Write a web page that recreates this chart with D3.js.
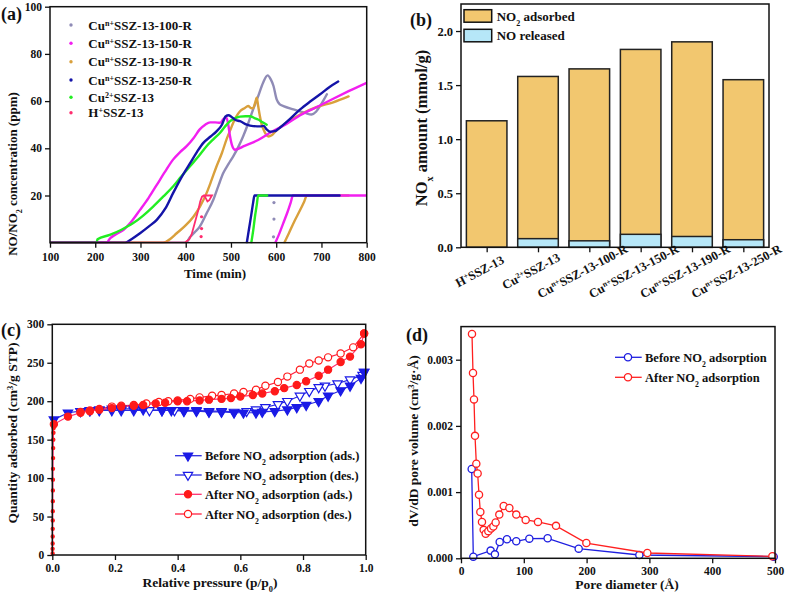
<!DOCTYPE html>
<html><head><meta charset="utf-8">
<script src="https://cdn.jsdelivr.net/npm/d3@7"></script>
<style>
body{margin:0;background:#fff}
svg text{font-family:"Liberation Serif","Times New Roman",serif;font-weight:bold;fill:#111}
</style>
</head><body>
<svg id="fig" width="787" height="597"></svg>
<script>
// ---------------- Panel (a) data: [time (min), concentration (ppm)] ----------------
const aSeriesNames = ["Cu^{n+}SSZ-13-100-R","Cu^{n+}SSZ-13-150-R","Cu^{n+}SSZ-13-190-R","Cu^{n+}SSZ-13-250-R","Cu^{2+}SSZ-13","H^{+}SSZ-13"];
const aColors = ["#8f8bb6","#f21ff0","#d9a03c","#1414a8","#22ee22","#ff2d6f"];
const a100R = [[100,0],[400,0],[410,2.5],[420,4.5],[431,6.8],[445,12],[461,18.2],[472,24],[483,29.5],[495,33.5],[505,36.6],[516,40.5],[527,45.1],[538,50.5],[549,56.5],[560,62],[571,67.8],[581,70.9],[588,69.2],[594,66.4],[601,60.7],[608,58.6],[616,57.9],[638,56.5],[664,55],[678,54.3],[688,55.5],[697,57.9],[705,60.5],[712,62.9]];
const a150R = [[100,0],[225,0],[233,1.9],[245,3.5],[262,5.4],[280,9],[299,13.9],[318,19],[336,24.5],[354,30],[372,35.2],[388,38.5],[402,40.9],[418,44.5],[431,48],[443,50],[454,51],[465,51],[476,50.8],[484,52.5],[490,53],[494,50],[498,45],[502,41.5],[509,39.4],[530,41],[560,43.5],[590,47],[620,50],[653,54],[690,57.5],[726,61],[760,64.2],[800,67.8]];
const a190R = [[100,0],[350,0],[365,1.5],[380,4],[398,7],[417,11],[432,15.5],[446,21],[457,26.5],[468,32.3],[480,38],[490,43.7],[498,47.5],[505,50.8],[512,53.5],[520,55.7],[530,57],[538,57.9],[545,57],[549,57],[553,59],[557,61.4],[560,58],[564,53.6],[568,50],[572,48],[577,46],[583,45],[590,45.5],[600,47.5],[623,50.8],[653,54.3],[690,57.5],[726,59.5],[760,62]];
const a250R = [[100,0],[266,0],[280,1.5],[299,4],[318,6.8],[336,9.7],[355,14.5],[372,21],[390,27.5],[410,33.8],[425,38.5],[439,42.3],[455,45],[468,47.2],[480,50],[488,53.5],[495,54],[500,53.5],[510,52],[520,51.5],[535,50],[549,49.4],[565,49.3],[572,49.5],[579,48],[587,47],[594,47.2],[600,47.5],[608,48.7],[625,51.5],[653,56.5],[675,59.8],[697,62.9],[718,66],[737,68.3]];
const aCu2 = [[100,0],[203,0],[205,1.5],[232,3.3],[258,5.5],[284,8.3],[306,11.5],[328,15.3],[350,19.5],[372,23.8],[390,28],[409,32.3],[428,36.5],[446,40.9],[462,44],[476,46.6],[488,49.5],[498,51.5],[510,52.8],[520,53.4],[532,53.6],[542,53.6],[552,52.8],[560,52.2],[570,51],[579,50]];
const aH = [[100,0],[398,0],[402,0.6],[408,1.5],[413,3.5],[418,7],[423,10.5],[428,14],[432,17.5],[436,19.5],[440,20],[458,20],[452,18],[448,17.5],[444,19],[440,20]];
// second (stepped) traces reaching 20 ppm
const a150Rstep = [[598,0],[605,3],[615,8],[625,13],[632,17],[637,20],[800,20]];
const a190Rstep = [[618,0],[628,4],[640,9],[652,13.5],[662,17.5],[668,20],[760,20]];
const a250Rstep = [[535,0],[540,6],[545,12],[549,17],[552,20],[740,20]];
const aCu2step = [[545,0],[549,5],[553,11],[557,16],[560,20],[580,20]];
const a100Rdots = [[595,17],[595,10],[594,2.5]];
const aHdots = [[435,11],[435,6],[434,2.6]];
const aXTicks = [100,200,300,400,500,600,700,800];
const aYTicks = [20,40,60,80,100];

// ---------------- Panel (b) data ----------------
const bCategories = ["H^{+}SSZ-13","Cu^{2+}SSZ-13","Cu^{n+}SSZ-13-100-R","Cu^{n+}SSZ-13-150-R","Cu^{n+}SSZ-13-190-R","Cu^{n+}SSZ-13-250-R"];
const bNO2adsorbed = [1.17,1.58,1.65,1.83,1.90,1.55];
const bNOreleased = [0,0.08,0.06,0.12,0.10,0.07];
const bYTicks = [0,0.5,1.0,1.5,2.0];

// ---------------- Panel (c) data: [p/p0, cm3/g STP] ----------------
const cBeforeAds = [[0.005,176],[0.05,185],[0.09,187],[0.12,188],[0.15,189],[0.19,190],[0.22,190],[0.26,190],[0.29,189],[0.35,188],[0.38,188],[0.42,187],[0.46,187],[0.50,186],[0.54,186],[0.58,185],[0.61,185],[0.65,185],[0.67,186],[0.71,187],[0.75,189],[0.78,192],[0.81,195],[0.85,200],[0.88,207],[0.92,214],[0.95,220],[0.985,230],[0.995,238]];
const cBeforeDes = [[0.995,238],[0.99,234],[0.95,228],[0.91,223],[0.87,220],[0.85,218],[0.82,213],[0.79,207],[0.75,200],[0.72,196],[0.68,192],[0.65,189],[0.62,187],[0.58,186],[0.54,187],[0.50,187],[0.46,188],[0.42,188],[0.39,188],[0.35,188],[0.31,188],[0.26,188],[0.22,188],[0.19,188],[0.15,188],[0.12,188],[0.09,187]];
const cAfterAdsLow = [[0.001,2],[0.001,8],[0.0011,15],[0.0012,24],[0.0013,34],[0.0014,45],[0.0015,57],[0.0016,70],[0.0018,84],[0.002,98],[0.0022,112],[0.0025,126],[0.0028,139],[0.0032,150],[0.0037,159],[0.0043,165]];
const cAfterAds = [[0.005,170],[0.05,180],[0.09,185],[0.12,187],[0.15,189],[0.19,191],[0.22,193],[0.26,194],[0.29,195],[0.33,197],[0.36,198],[0.40,200],[0.43,200],[0.47,201],[0.50,202],[0.54,203],[0.57,204],[0.60,206],[0.64,208],[0.67,210],[0.71,213],[0.74,217],[0.78,221],[0.81,226],[0.85,233],[0.88,241],[0.92,251],[0.95,258],[0.985,274],[0.995,288]];
const cAfterDes = [[0.995,288],[0.96,270],[0.92,262],[0.88,257],[0.85,253],[0.82,249],[0.79,241],[0.75,232],[0.72,225],[0.68,220],[0.65,215],[0.61,212],[0.58,210],[0.54,208],[0.51,207],[0.47,205],[0.44,203],[0.40,201],[0.37,200],[0.34,199],[0.30,197],[0.26,195],[0.22,194],[0.19,193],[0.15,190],[0.12,188],[0.09,186]];
const cXTicks = [0,0.2,0.4,0.6,0.8,1.0];
const cYTicks = [0,50,100,150,200,250,300];

// ---------------- Panel (d) data: [pore diameter (Å), dV/dD] ----------------
const dBefore = [[17,0.00135],[19.6,0.000025],[47.2,0.000116],[54,0.00006],[61.6,0.000247],[73.2,0.000287],[88,0.000257],[108.8,0.000297],[138,0.000302],[187.4,0.000146],[284,0.00005],[498,0.000025]];
const dAfter = [[17.5,0.00339],[19.1,0.0028],[20.7,0.0024],[22.3,0.00185],[24.4,0.00143],[26.5,0.00128],[28.7,0.00096],[30.8,0.0007],[33.4,0.00055],[36.1,0.00043],[39.3,0.00037],[43.5,0.00041],[47.8,0.00045],[51.5,0.00048],[55.2,0.00054],[61,0.00066],[68,0.00079],[77,0.00076],[88,0.00066],[103,0.00058],[122.6,0.00055],[151.3,0.00049],[199.6,0.00023],[296.7,0.00008],[495.8,0.00003]];
const dXTicks = [0,100,200,300,400,500];
const dYTicks = [0,0.001,0.002,0.003];

// ---------------- helpers ----------------
const svg = d3.select("#fig");
function rich(sel, str){
  str.split(/(\^\{[^}]*\}|_\{[^}]*\})/).filter(s=>s).forEach(p=>{
    if(p.startsWith("^{")) sel.append("tspan").attr("baseline-shift","super").style("font-size","0.62em").text(p.slice(2,-1));
    else if(p.startsWith("_{")) sel.append("tspan").attr("baseline-shift","sub").style("font-size","0.62em").text(p.slice(2,-1));
    else sel.append("tspan").text(p);
  });
  return sel;
}
function styleAxis(g, fs){
  g.select(".domain").remove();
  g.selectAll(".tick line").attr("stroke","#111").attr("stroke-width",1.3);
  g.selectAll(".tick text").style("font-size",fs+"px").attr("fill","#111");
}
function frame(x0,y0,x1,y1){
  svg.append("rect").attr("x",x0).attr("y",y0).attr("width",x1-x0).attr("height",y1-y0)
    .attr("fill","none").attr("stroke","#111").attr("stroke-width",1.5);
}
function label(txt,x,y,fs,rot,anchor){
  const t = svg.append("text").attr("transform",`translate(${x},${y}) rotate(${rot||0})`)
    .attr("text-anchor",anchor||"middle").style("font-size",fs+"px");
  return rich(t,txt);
}

// ================= Panel (a) =================
{
  const x = d3.scaleLinear().domain([100,800]).range([50,366.7]);
  const y = d3.scaleLinear().domain([0,100]).range([242.7,6.7]);
  const g = svg.append("g");
  svg.append("clipPath").attr("id","clipA").append("rect").attr("x",50).attr("y",6.7).attr("width",316.7).attr("height",236.5);
  const plot = g.append("g").attr("clip-path","url(#clipA)");
  const line = d3.line().x(d=>x(d[0])).y(d=>y(d[1])).curve(d3.curveMonotoneX);
  const mains = [a100R,a150R,a190R,a250R,aCu2,aH];
  const steps = [null,a150Rstep,a190Rstep,a250Rstep,aCu2step,null];
  const order = [0,2,1,4,3];
  order.forEach(i=>{
    plot.append("path").attr("d",line(mains[i])).attr("fill","none").attr("stroke",aColors[i]).attr("stroke-width",2.4).attr("stroke-linecap","round");
  });
  [2,1,3,4].forEach(i=>{
    plot.append("path").attr("d",line(steps[i])).attr("fill","none").attr("stroke",aColors[i]).attr("stroke-width",2.4).attr("stroke-linecap","round");
  });
  plot.selectAll(".d100").data(a100Rdots).join("circle").attr("cx",d=>x(d[0])).attr("cy",d=>y(d[1])).attr("r",1.6).attr("fill",aColors[0]);
  plot.append("path").attr("d",d3.line().x(d=>x(d[0])).y(d=>y(d[1]))(aH)).attr("fill","none").attr("stroke",aColors[5]).attr("stroke-width",1.8);
  plot.selectAll(".dh").data(aHdots).join("circle").attr("cx",d=>x(d[0])).attr("cy",d=>y(d[1])).attr("r",1.6).attr("fill",aColors[5]);

  const ax = g.append("g").attr("transform","translate(0,242.7)").call(d3.axisBottom(x).tickValues(aXTicks).tickSize(5).tickPadding(5).tickSizeOuter(0));
  styleAxis(ax,11.5);
  const ay = g.append("g").attr("transform","translate(50,0)").call(d3.axisLeft(y).tickValues(aYTicks).tickSize(5).tickPadding(3).tickSizeOuter(0));
  styleAxis(ay,11.5);
  frame(50,6.7,366.7,242.7);
  aSeriesNames.forEach((n,i)=>{
    const yy = [25,43.3,61.7,80,97.3,112.7][i];
    svg.append("circle").attr("cx",71).attr("cy",yy).attr("r",1.7).attr("fill",aColors[i]);
    label(n,88.3,yy+4.5,13,0,"start");
  });
  label("NO/NO_{2} concentration (ppm)",17,174,13,-90);
  label("Time (min)",215,278,13);
  label("(a)",1,20,18,0,"start");
}

// ================= Panel (b) =================
{
  const x = d3.scalePoint().domain(bCategories).range([461,769]).padding(0.5);
  const step = x.step(), bw = step*0.79;
  const y = d3.scaleLinear().domain([0,2.25]).range([247.3,4]);
  const g = svg.append("g");
  g.selectAll(".bo").data(bCategories).join("rect")
    .attr("x",d=>x(d)-bw/2).attr("width",bw)
    .attr("y",(d,i)=>y(bNO2adsorbed[i])).attr("height",(d,i)=>y(0)-y(bNO2adsorbed[i]))
    .attr("fill","#f2c76f").attr("stroke","#222").attr("stroke-width",1.5);
  g.selectAll(".bb").data(bCategories.filter((d,i)=>bNOreleased[i]>0)).join("rect")
    .attr("x",d=>x(d)-bw/2).attr("width",bw)
    .attr("y",d=>y(bNOreleased[bCategories.indexOf(d)])).attr("height",d=>y(0)-y(bNOreleased[bCategories.indexOf(d)]))
    .attr("fill","#b6e7f8").attr("stroke","#222").attr("stroke-width",1.5);
  const ay = g.append("g").attr("transform","translate(461,0)").call(d3.axisLeft(y).tickValues(bYTicks).tickFormat(d3.format(".1f")).tickSize(5).tickPadding(3).tickSizeOuter(0));
  styleAxis(ay,12.5);
  const ax = g.append("g").attr("transform","translate(0,247.3)").call(d3.axisBottom(x).tickSize(5).tickFormat("").tickSizeOuter(0));
  styleAxis(ax,12);
  frame(461,4,769,247.3);
  bCategories.forEach(c=>{ label(c,x(c)-5,275,12.5,-28); });
  [["NO_{2} adsorbed","#f2c76f",9.7],["NO released","#b6e7f8",29.3]].forEach(l=>{
    svg.append("rect").attr("x",464).attr("y",l[2]).attr("width",27.7).attr("height",12.5).attr("fill",l[1]).attr("stroke","#111").attr("stroke-width",1.5);
    label(l[0],496.7,l[2]+11,13,0,"start");
  });
  label("NO_{x} amount (mmol/g)",427,128,16.5,-90);
  label("(b)",410,26,18,0,"start");
}

// ================= Panel (c) =================
{
  const x = d3.scaleLinear().domain([0,1]).range([52.3,365.7]);
  const y = d3.scaleLinear().domain([0,300]).range([555,324.3]);
  const g = svg.append("g");
  const line = d3.line().x(d=>x(d[0])).y(d=>y(d[1]));
  const tri = d3.symbol().type(d3.symbolTriangle).size(38);
  const afterAdsAll = cAfterAdsLow.concat(cAfterAds);
  const sets = [
    {d:cBeforeDes,c:"#1a1ae6",lc:"#2a2ae0",m:"tri",fill:"#fff"},
    {d:cBeforeAds,c:"#1a1ae6",lc:"#2a2ae0",m:"tri",fill:"#1a1ae6"},
    {d:cAfterDes,c:"#ff1a1a",lc:"#ff2040",m:"circ",fill:"#fff"},
    {d:afterAdsAll,c:"#ff1a1a",lc:"#ff3070",m:"circ",fill:"#ff1a1a"}
  ];
  sets.forEach(s=>{
    g.append("path").attr("d",line(s.d)).attr("fill","none").attr("stroke",s.lc).attr("stroke-width",1.2);
  });
  sets.forEach(s=>{
    if(s.m==="tri"){
      g.selectAll(null).data(s.d).join("path").attr("d",tri)
        .attr("transform",d=>`translate(${x(d[0])},${y(d[1])}) rotate(180)`)
        .attr("fill",s.fill).attr("stroke",s.c).attr("stroke-width",1.2);
    } else {
      g.selectAll(null).data(s.d).join("circle").attr("cx",d=>x(d[0])).attr("cy",d=>y(d[1])).attr("r",d=>d[1]<166?1.6:3.6)
        .attr("fill",s.fill).attr("stroke",s.c).attr("stroke-width",1.2);
    }
  });
  const ax = g.append("g").attr("transform","translate(0,555)").call(d3.axisBottom(x).tickValues(cXTicks).tickFormat(d3.format(".1f")).tickSize(5).tickPadding(4).tickSizeOuter(0));
  styleAxis(ax,11.5);
  const ay = g.append("g").attr("transform","translate(52.3,0)").call(d3.axisLeft(y).tickValues(cYTicks).tickSize(5).tickPadding(3).tickSizeOuter(0));
  styleAxis(ay,11.5);
  frame(52.3,324.3,365.7,555);
  const leg = [
    ["Before NO_{2} adsorption (ads.)",sets[1]],["Before NO_{2} adsorption (des.)",sets[0]],
    ["After NO_{2} adsorption (ads.)",sets[3]],["After NO_{2} adsorption (des.)",sets[2]]];
  leg.forEach((l,i)=>{
    const yy=[455.7,475,494.3,514][i], s=l[1];
    svg.append("line").attr("x1",175).attr("x2",201.7).attr("y1",yy).attr("y2",yy).attr("stroke",s.lc).attr("stroke-width",1.3);
    if(s.m==="tri") svg.append("path").attr("d",tri).attr("transform",`translate(188,${yy}) rotate(180)`).attr("fill",s.fill).attr("stroke",s.c).attr("stroke-width",1.2);
    else svg.append("circle").attr("cx",188).attr("cy",yy).attr("r",3.6).attr("fill",s.fill).attr("stroke",s.c).attr("stroke-width",1.2);
    label(l[0],205,yy+4.5,12.5,0,"start");
  });
  label("Quantity adsorbed (cm^{3}/g STP)",17,433,13.5,-90);
  label("Relative pressure (p/p_{0})",210,587,13.5);
  label("(c)",1,336,18,0,"start");
}

// ================= Panel (d) =================
{
  const x = d3.scaleLinear().domain([0,500]).range([461,775]);
  const y = d3.scaleLinear().domain([0,0.0035]).range([558.3,326.6]);
  const g = svg.append("g");
  const line = d3.line().x(d=>x(d[0])).y(d=>y(d[1]));
  [[dBefore,"#1f1fe0"],[dAfter,"#ff2020"]].forEach(s=>{
    g.append("path").attr("d",line(s[0])).attr("fill","none").attr("stroke",s[1]).attr("stroke-width",1.3);
    g.selectAll(null).data(s[0]).join("circle").attr("cx",d=>x(d[0])).attr("cy",d=>y(d[1])).attr("r",3.6)
      .attr("fill","#fff").attr("stroke",s[1]).attr("stroke-width",1.3);
  });
  const ax = g.append("g").attr("transform","translate(0,558.3)").call(d3.axisBottom(x).tickValues(dXTicks).tickSize(5).tickPadding(4).tickSizeOuter(0));
  styleAxis(ax,11.5);
  const ay = g.append("g").attr("transform","translate(461,0)").call(d3.axisLeft(y).tickValues(dYTicks).tickFormat(d3.format(".3f")).tickSize(5).tickPadding(3).tickSizeOuter(0));
  styleAxis(ay,11.5);
  frame(461,326.6,775,558.3);
  [["Before NO_{2} adsorption","#1f1fe0",357.3],["After NO_{2} adsorption","#ff2020",377.3]].forEach(l=>{
    svg.append("line").attr("x1",615).attr("x2",641.7).attr("y1",l[2]).attr("y2",l[2]).attr("stroke",l[1]).attr("stroke-width",1.3);
    svg.append("circle").attr("cx",628).attr("cy",l[2]).attr("r",3.6).attr("fill","#fff").attr("stroke",l[1]).attr("stroke-width",1.3);
    label(l[0],645,l[2]+4.5,12.5,0,"start");
  });
  label("dV/dD pore volume (cm^{3}/g·Å)",418,441,13.5,-90);
  label("Pore diameter (Å)",627,589,13.5);
  label("(d)",406,341,18,0,"start");
}
</script>
</body></html>
